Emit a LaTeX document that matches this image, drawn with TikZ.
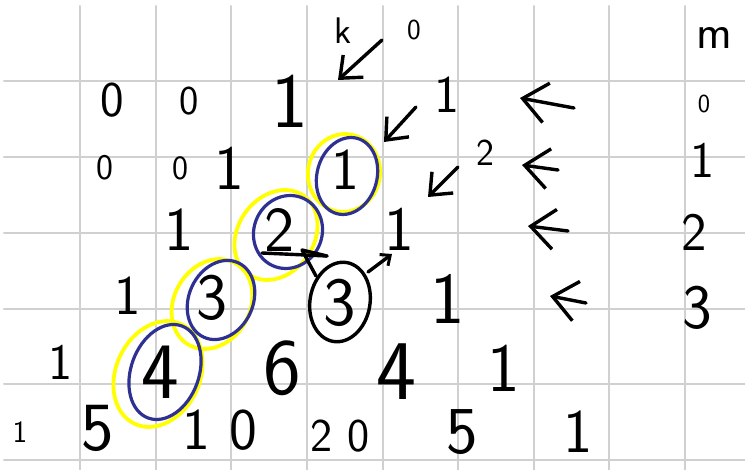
\documentclass[tikz,border=0pt]{standalone}
\usetikzlibrary{arrows.meta}
\definecolor{gridgray}{RGB}{208,208,208}
\definecolor{penblue}{RGB}{46,49,146}
\definecolor{penyellow}{RGB}{255,255,0}
\begin{document}
\begin{tikzpicture}[x=1pt,y=-1pt, line cap=round, line join=round,
 gridline/.style={gridgray, line width=2pt},
 dig/.style={font=\sffamily\fontsize{#1}{#1}\selectfont, inner sep=0pt, text=black},
 pen/.style={black, line width=3.4pt},
 arr/.style={pen, -{Straight Barb[length=18pt, width=30pt, line width=3.4pt]}},
 bigarr/.style={pen, -{Straight Barb[length=24pt, width=40pt, line width=3.4pt]}},
 bluering/.style={penblue, line width=3.2pt},
 yellowring/.style={penyellow, line width=3.8pt}]
\useasboundingbox[fill=white] (0,0) rectangle (745,470);
% grid
\foreach \x in {80,155.5,231,306.5,382.5,458,534,609,685}
  \draw[gridline] (\x,6) -- (\x,470);
\foreach \y in {81,157,233,309,384,460}
  \draw[gridline] (4,\y) -- (745,\y);
% rings
\draw[yellowring] (344,173) ellipse [x radius=36, y radius=39, rotate=-10];
\draw[yellowring] (276,235) ellipse [x radius=38, y radius=48, rotate=-35];
\draw[yellowring] (212,304) ellipse [x radius=38, y radius=47, rotate=-30];
\draw[yellowring] (158,374) ellipse [x radius=42, y radius=55, rotate=-25];
\draw[bluering] (347,176) ellipse [x radius=30, y radius=39, rotate=-15];
\draw[bluering] (288,232) ellipse [x radius=34, y radius=37, rotate=-25];
\draw[bluering] (221,300) ellipse [x radius=32, y radius=41, rotate=-25];
\draw[bluering] (165,372) ellipse [x radius=34, y radius=49, rotate=-20];
\draw[pen] (340,302) ellipse [x radius=30, y radius=40, rotate=-10];
% row 0
\node[dig=37] (k) at (343,31) {k};
\node[dig=29] (z0) at (414,30) {0};
\node[dig=48] (m) at (714,38) {m};
% row 1
\node[dig=50] (a10) at (112,100) {0};
\node[dig=41] (a11) at (189,101) {0};
\node[dig=78] (a12) at (290,101) {1};
\node[dig=53] (a13) at (447,95) {1};
\node[dig=26] (m0) at (704,104) {0};
% row 2
\node[dig=36] (a20) at (105,168) {0};
\node[dig=34] (a21) at (180,168) {0};
\node[dig=63] (a22) at (229,168) {1};
\node[dig=59] (c1) at (345,170) {1};
\node[dig=38] (two) at (485,153) {2};
\node[dig=51] (m1) at (702,160) {1};
% row 3
\node[dig=62] (a31) at (179,230) {1};
\node[dig=64] (c2) at (280,230) {2};
\node[dig=63] (a33) at (399,229) {1};
\node[dig=54] (m2) at (694,232) {2};
% row 4
\node[dig=56] (a41) at (128,296) {1};
\node[dig=66] (c3) at (212,298) {3};
\node[dig=69] (b3) at (340,303) {3};
\node[dig=73] (a44) at (448,299) {1};
\node[dig=63] (m3) at (697,308) {3};
% row 5
\node[dig=51] (a50) at (60,362) {1};
\node[dig=80] (c4) at (160,372) {4};
\node[dig=80] (a52) at (282,368) {6};
\node[dig=85] (a53) at (396,372) {4};
\node[dig=69] (a54) at (504,368) {1};
% row 6
\node[dig=31] (a60) at (20,432) {1};
\node[dig=69] (a61) at (98,428) {5};
\node[dig=59] (a62) at (220,430) {1\,\,0};
\node[dig=47] (a63) at (340,436) {2\,\,0};
\node[dig=67] (a64) at (462,432) {5};
\node[dig=62] (a65) at (578,432) {1};
% arrow end points
\coordinate (p0s) at (382,40);  \coordinate (p0e) at (338,80);
\coordinate (p1s) at (416,107); \coordinate (p1e) at (384,142);
\coordinate (p2s) at (458,167); \coordinate (p2e) at (428,197);
\coordinate (q1s) at (574,108); \coordinate (q1e) at (520,98);
\coordinate (q2s) at (558,170); \coordinate (q2e) at (522,165);
\coordinate (q3s) at (568,231); \coordinate (q3e) at (528,226);
\coordinate (q4s) at (586,303); \coordinate (q4e) at (550,296);
\coordinate (s1) at (368,272);  \coordinate (s2) at (392,254);
\coordinate (t1) at (316,276);  \coordinate (t2) at (302,250); \coordinate (t3) at (327,256);
\coordinate (t0) at (262,253);
% arrows
\draw[arr] (p0s) -- (p0e);
\draw[arr] (p1s) -- (p1e);
\draw[arr] (p2s) -- (p2e);
\draw[bigarr] (q1s) -- (q1e);
\draw[bigarr] (q2s) -- (q2e);
\draw[bigarr] (q3s) -- (q3e);
\draw[bigarr] (q4s) -- (q4e);
\draw[pen, -{Straight Barb[length=8pt, width=14pt, line width=3pt]}] (s1) -- (s2);
\draw[pen] (t0) -- (t3);
\draw[pen] (t1) -- (t2) -- (t3);
\end{tikzpicture}
\end{document}
